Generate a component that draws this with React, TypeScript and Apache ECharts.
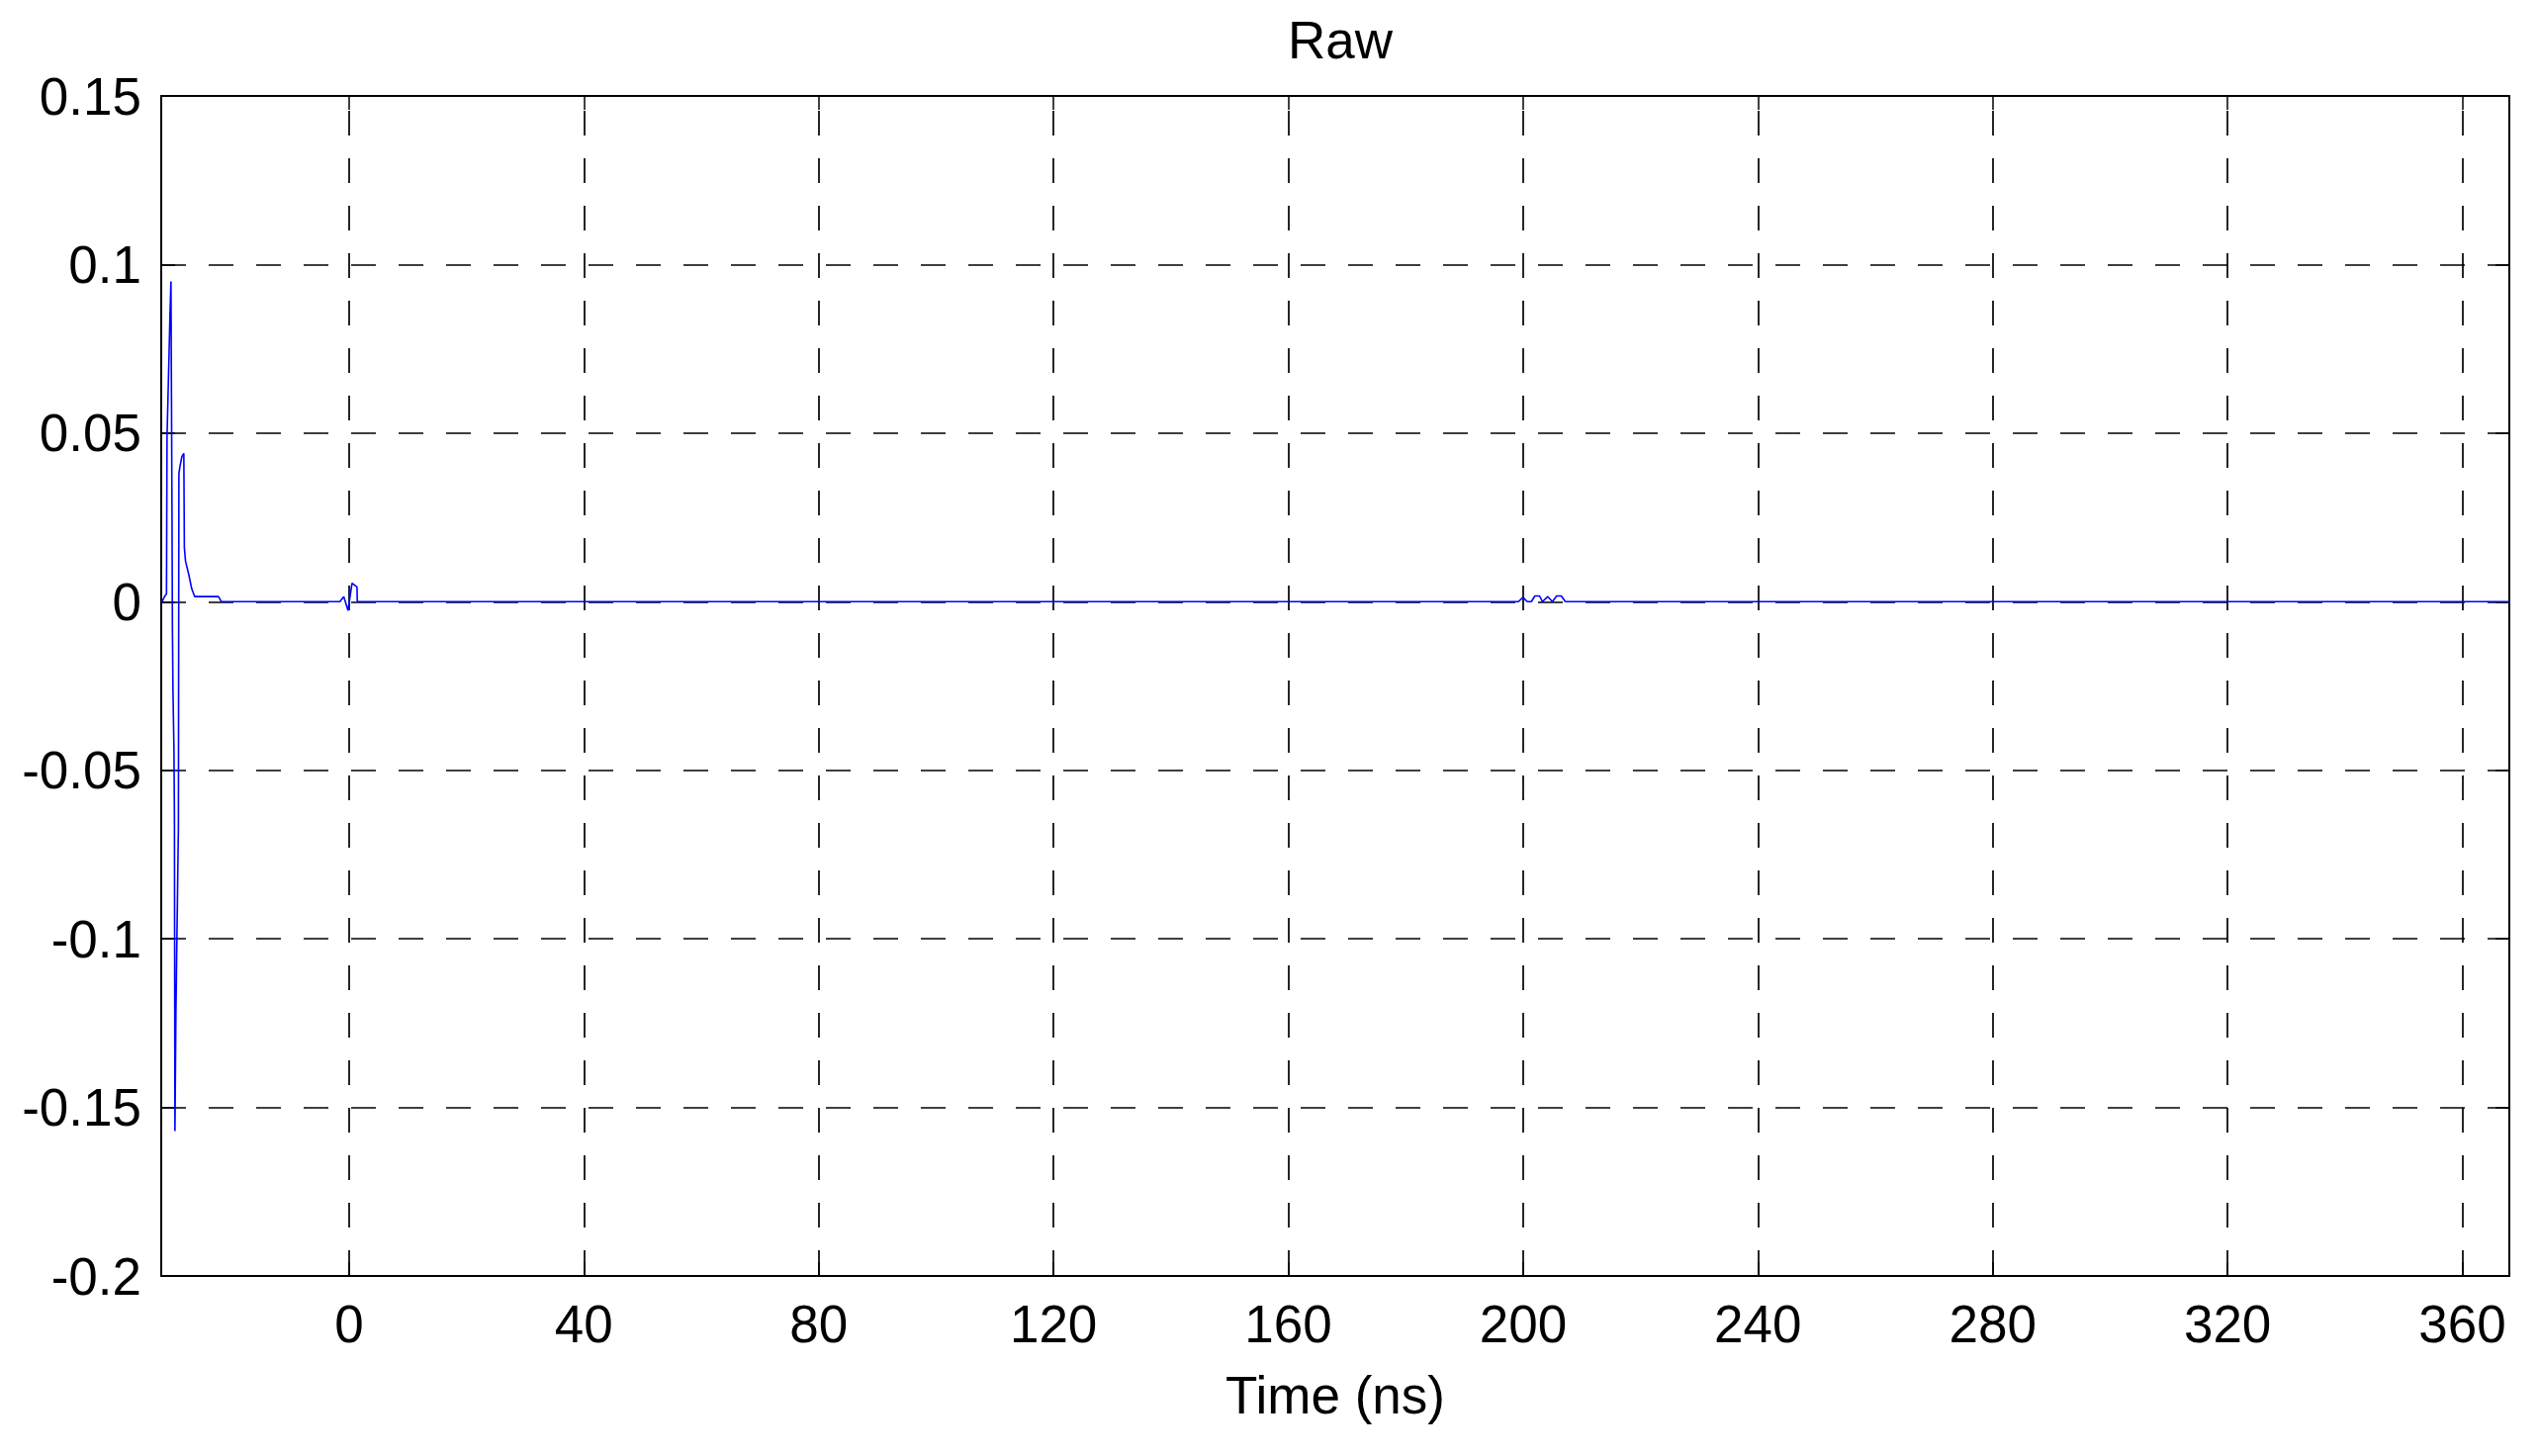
import React, { useEffect, useRef } from "react";
import * as echarts from "echarts";

const chartTitle = "Raw";
const xAxisName = "Time (ns)";
const xTickValues = [0, 40, 80, 120, 160, 200, 240, 280, 320, 360];
const yTickLabels = ["-0.2", "-0.15", "-0.1", "-0.05", "0", "0.05", "0.1", "0.15"];

const timeNs = [
  -32, -31.86, -31.35, -31.1, -31.01, -30.84, -30.67, -30.51, -30.34, -30.17, -30.09, -30.0,
  -29.83, -29.75, -29.66, -29.5, -29.41, -29.33, -29.24, -29.16, -29.07, -28.99, -28.82,
  -28.48, -28.15, -28.06, -27.86, -27.3, -26.8, -26.29, -22.25, -21.74,
  -1.57, -0.9, -0.17, 0.5, 1.35, 1.4,
  199.2, 199.97, 200.7, 201.4, 202.0, 202.8, 203.3, 204.2, 205.0, 205.7, 206.5, 207.2,
  368,
];
const amplitude = [
  0, 0, 0.0018, 0.0023, 0.049, 0.061, 0.073, 0.085, 0.095, 0.029, -0.008, -0.026,
  -0.044, -0.063, -0.157, -0.122, -0.111, -0.1, -0.089, -0.078, -0.067, 0.038, 0.04,
  0.043, 0.044, 0.016, 0.012, 0.008, 0.0038, 0.0015, 0.0015, 0,
  0, 0.0015, -0.0026, 0.0055, 0.0044, 0,
  0, 0.0013, 0, 0, 0.0017, 0.0017, 0, 0.0015, 0, 0.0017, 0.0017, 0,
  0,
];

const FONT = "'Liberation Sans', Arial, Helvetica, sans-serif";

export default function App() {
  const ref = useRef<HTMLDivElement>(null);
  useEffect(() => {
    if (!ref.current) return;
    const chart = echarts.init(ref.current, null, { renderer: "svg" });
    const data = timeNs.map((t, i) => [t, amplitude[i]]);
    const yLabelSet = new Set(yTickLabels);
    const axisLine = { show: true, onZero: false, lineStyle: { color: "#000", width: 2 } };
    const tick = { color: "#000", width: 1.5 };
    chart.setOption({
      animation: false,
      backgroundColor: "#ffffff",
      title: {
        text: chartTitle,
        left: 1350,
        top: 9,
        textAlign: "center",
        textStyle: { fontFamily: FONT, fontSize: 53, fontWeight: "normal", color: "#000" },
      },
      grid: {
        left: 163,
        top: 97,
        right: 30,
        bottom: 182,
        show: false,
        outerBoundsMode: "none",
      },
      xAxis: [
        {
          type: "value",
          min: -32,
          max: 368,
          position: "bottom",
          name: xAxisName,
          nameLocation: "middle",
          nameGap: 94,
          nameTextStyle: { fontFamily: FONT, fontSize: 53, color: "#000" },
          axisLine,
          axisTick: { show: true, inside: true, length: 14, customValues: xTickValues, lineStyle: tick },
          axisLabel: {
            customValues: xTickValues,
            fontFamily: FONT,
            fontSize: 53,
            color: "#000",
            margin: 22,
          },
          splitLine: {
            show: true,
            lineStyle: { color: "#000", width: 1.7, type: [25, 23], dashOffset: 33 },
          },
        },
        {
          type: "value",
          min: -32,
          max: 368,
          position: "top",
          axisLine,
          axisTick: { show: true, inside: true, length: 14, customValues: xTickValues, lineStyle: tick },
          axisLabel: { show: false },
          splitLine: { show: false },
        },
      ],
      yAxis: [
        {
          type: "value",
          min: -0.2,
          max: 0.15,
          interval: 0.05,
          position: "left",
          axisLine,
          axisTick: { show: true, inside: true, length: 14, lineStyle: tick },
          axisLabel: {
            fontFamily: FONT,
            fontSize: 53,
            color: "#000",
            margin: 20,
            formatter: (v: number) => {
              const s = String(Math.round(v * 100) / 100);
              return yLabelSet.has(s) ? s : s;
            },
          },
          splitLine: {
            show: true,
            lineStyle: { color: "#000", width: 1.7, type: [25, 23], dashOffset: 0 },
          },
        },
        {
          type: "value",
          min: -0.2,
          max: 0.15,
          interval: 0.05,
          position: "right",
          axisLine,
          axisTick: { show: true, inside: true, length: 14, lineStyle: tick },
          axisLabel: { show: false },
          splitLine: { show: false },
        },
      ],
      series: [
        {
          type: "line",
          xAxisIndex: 0,
          yAxisIndex: 0,
          data,
          showSymbol: false,
          symbol: "none",
          lineStyle: { color: "#0000ff", width: 1.6 },
          itemStyle: { color: "#0000ff" },
          z: 5,
        },
      ],
    });
    return () => chart.dispose();
  }, []);
  return (
    <div
      ref={ref}
      style={{ position: "fixed", left: 0, top: 0, width: "2567px", height: "1472px", background: "#fff" }}
    />
  );
}
